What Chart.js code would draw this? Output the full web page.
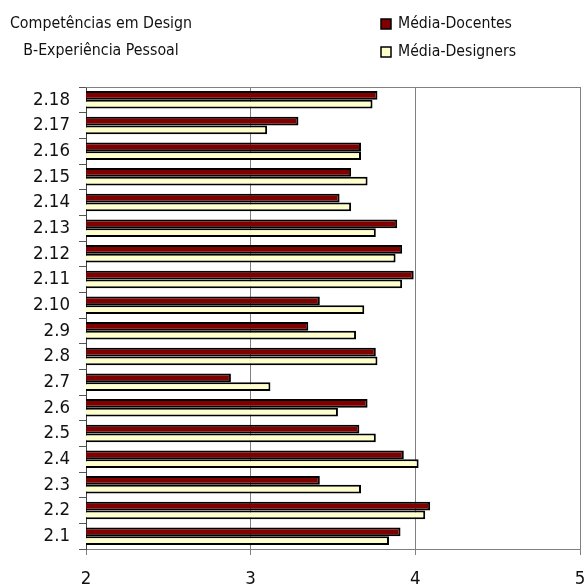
<!DOCTYPE html>
<html>
<head>
<meta charset="utf-8">
<script src="https://cdn.jsdelivr.net/npm/chart.js@4/dist/chart.umd.min.js"></script>
<style>
  html, body { margin: 0; padding: 0; background: #fff; }
  canvas { display: block; }
</style>
</head>
<body>
<canvas id="mycanvas" width="587" height="588"></canvas>
<script>
// categories from top to bottom
var categories = ['2.18','2.17','2.16','2.15','2.14','2.13','2.12','2.11','2.10','2.9','2.8','2.7','2.6','2.5','2.4','2.3','2.2','2.1'];
var docentes  = [3.77, 3.29, 3.67, 3.61, 3.54, 3.89, 3.92, 3.99, 3.42, 3.35, 3.76, 2.88, 3.71, 3.66, 3.93, 3.42, 4.09, 3.91];
var designers = [3.74, 3.10, 3.67, 3.71, 3.61, 3.76, 3.88, 3.92, 3.69, 3.64, 3.77, 3.12, 3.53, 3.76, 4.02, 3.67, 4.06, 3.84];
var xTicks = [2, 3, 4, 5];
var titleLines = ['Competências em Design', 'B-Experiência Pessoal'];

// pick a narrow font if there is one, then size text to the reference widths
var mctx = document.createElement('canvas').getContext('2d');
function width(fam, size, txt) {
	mctx.font = size + 'px ' + fam;
	return mctx.measureText(txt).width;
}
function hasFont(name) {
	var s = 'abcdefghijklmnopqrstuvwxyz0123456789';
	return width('"' + name + '", monospace', 20, s) !== width('monospace', 20, s);
}
var FAM = 'sans-serif';
var cands = ['Liberation Sans Narrow', 'DejaVu Sans Condensed', 'Roboto Condensed', 'Liberation Sans'];
for (var c = 0; c < cands.length; c++) {
	if (hasFont(cands[c])) { FAM = '"' + cands[c] + '", sans-serif'; break; }
}
function fit(txt, w) {
	return Math.round(20 * w / width(FAM, 20, txt) * 10) / 10;
}
var titleSize = fit(titleLines[0], 182);
var legendSize = fit('Média-Docentes', 114);
var tickSize = Math.min(fit('2.18', 37), 21);

// title, legend and top frame drawn by hand
var decor = {
	id: 'decor',
	afterDraw: function(chart) {
		var ctx = chart.ctx;
		var a = chart.chartArea;
		ctx.save();
		ctx.strokeStyle = '#808080';
		ctx.lineWidth = 1;
		ctx.beginPath();
		ctx.moveTo(a.left, a.top + 0.5);
		ctx.lineTo(a.right, a.top + 0.5);
		ctx.stroke();

		ctx.fillStyle = '#111';
		ctx.font = titleSize + 'px ' + FAM;
		ctx.textAlign = 'center';
		ctx.textBaseline = 'middle';
		ctx.fillText(titleLines[0], 101, 24);
		ctx.fillText(titleLines[1], 101, 51);

		var ds = chart.data.datasets;
		var ys = [24, 52];
		ctx.font = legendSize + 'px ' + FAM;
		for (var i = 0; i < ds.length; i++) {
			ctx.fillStyle = ds[i].backgroundColor;
			ctx.fillRect(381, ys[i] - 5, 10, 10);
			ctx.strokeStyle = '#000';
			ctx.lineWidth = 1.5;
			ctx.strokeRect(381, ys[i] - 5, 10, 10);
			ctx.fillStyle = '#111';
			ctx.textAlign = 'left';
			ctx.fillText(ds[i].label, 398, ys[i]);
		}
		ctx.restore();
	}
};

var chardata = {
	labels: categories,
	datasets: [
	{
		label: 'Média-Docentes',
		backgroundColor: '#800000',
		borderColor: '#000',
		borderWidth: 2,
		data: docentes
	},
	{
		label: 'Média-Designers',
		backgroundColor: '#FFFFCC',
		borderColor: '#000',
		borderWidth: 2,
		data: designers
	}
	]
};

var ctx = document.getElementById('mycanvas');
var BarGraph = new Chart(ctx, {
	type: 'bar',
	data: chardata,
	plugins: [decor],
	options: {
		indexAxis: 'y',
		responsive: false,
		animation: false,
		layout: { padding: { top: 87, right: 7, left: 0, bottom: 0 } },
		categoryPercentage: 0.68,
		barPercentage: 1.0,
		plugins: {
			legend: { display: false },
			title: { display: false },
			tooltip: { enabled: false }
		},
		scales: {
			x: {
				min: 2,
				max: 5,
				afterBuildTicks: function(s) { s.ticks = xTicks.map(function(v){ return { value: v }; }); },
				afterFit: function(s) { s.height = 39; s.paddingLeft = 0; s.paddingRight = 0; },
				grid: {
					color: '#808080',
					lineWidth: 1,
					tickLength: 6
				},
				border: { color: '#808080', width: 1 },
				ticks: {
					color: '#111',
					font: { family: FAM, size: tickSize },
					padding: 13
				}
			},
			y: {
				afterFit: function(s) { s.width = 86; },
				grid: {
					drawOnChartArea: false,
					color: '#555',
					tickLength: 7
				},
				border: { color: '#444', width: 1 },
				ticks: {
					color: '#111',
					font: { family: FAM, size: tickSize },
					padding: 9
				}
			}
		}
	}
});
</script>
</body>
</html>
